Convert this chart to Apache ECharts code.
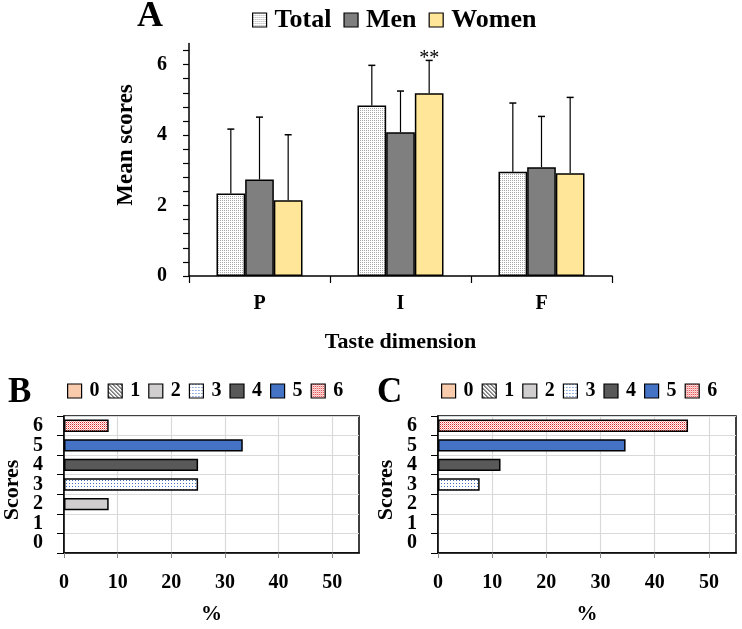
<!DOCTYPE html>
<html>
<head>
<meta charset="utf-8">
<script src="https://cdn.jsdelivr.net/npm/echarts@6/dist/echarts.min.js"></script>
<style>
html,body{margin:0;padding:0;background:#fff;}
#c{width:742px;height:629px;}
</style>
</head>
<body>
<div id="c"></div>
<script>
// ---------- Data ----------
const categories = ['P', 'I', 'F'];
const totalMean = [2.34, 4.84, 2.96];
const totalSD   = [1.83, 1.14, 1.95];
const menMean   = [2.74, 4.08, 3.09];
const menSD     = [1.77, 1.17, 1.44];
const womenMean = [2.15, 5.19, 2.92];
const womenSD   = [1.86, 0.93, 2.15];
const womenSig  = ['', '**', ''];
const yLabelsA  = [0, 2, 4, 6];

const scoreLabels = ['0', '1', '2', '3', '4', '5', '6'];
const pctB = [0, 0, 8.33, 25, 25, 33.33, 8.33];
const pctC = [0, 0, 0, 7.69, 11.54, 34.62, 46.15];
const xLabelsBC = [0, 10, 20, 30, 40, 50];

// ---------- Styles ----------
const FONT = '"Liberation Serif", "Times New Roman", serif';
function pat(size, bg, dots) {
  const c = document.createElement('canvas');
  c.width = size; c.height = size;
  const g = c.getContext('2d');
  g.fillStyle = bg; g.fillRect(0, 0, size, size);
  dots.forEach(d => { g.fillStyle = d[2]; g.fillRect(d[0], d[1], 1, 1); });
  return { image: c, repeat: 'repeat' };
}
const totalFill = pat(2, '#ffffff', [[0, 0, '#a8a8a8']]);
const scoreFills = [
  '#f8cbad',
  pat(4, '#ffffff', [[0,0,'#555'],[1,1,'#555'],[2,2,'#555'],[3,3,'#555'],[1,0,'#aaa'],[2,1,'#aaa'],[3,2,'#aaa'],[0,3,'#aaa']]),
  '#d0cece',
  pat(3, '#ffffff', [[0, 0, '#4472c4']]),
  '#595959',
  '#4472c4',
  pat(2, '#ffffff', [[0, 0, '#e02020'], [1, 1, '#f7a0a0']])
];
const groupFills = [totalFill, '#7f7f7f', '#ffe699'];
const GAP = 0.39;

// ---------- Minor ticks for panel A (axis tick positions) ----------
const yTicksA = [];
for (let k = 0; k <= 16; k++) yTicksA.push(+(k * 0.4).toFixed(1));

function errSeries(k, means, sds, sig) {
  return {
    type: 'custom',
    xAxisIndex: 0, yAxisIndex: 0,
    z: 5,
    silent: true,
    data: categories.map((c, i) => [i, means[i], means[i] + sds[i]]),
    renderItem: function (params, api) {
      const i = api.value(0);
      const band = api.size([1, 0])[0];
      const bw = band * (1 - GAP) / 3;
      const mid = api.coord([i, api.value(1)]);
      const top = api.coord([i, api.value(2)]);
      const x = mid[0] + (k - 1) * bw;
      const children = [
        { type: 'line', shape: { x1: x, y1: mid[1], x2: x, y2: top[1] }, style: { stroke: '#000', lineWidth: 1.2 } },
        { type: 'line', shape: { x1: x - 3.5, y1: top[1], x2: x + 3.5, y2: top[1] }, style: { stroke: '#000', lineWidth: 1.5 } }
      ];
      const s = sig ? sig[i] : '';
      if (s) {
        children.push({ type: 'text', x: x, y: top[1] - 2, style: { text: s, font: '20px ' + FONT, fill: '#000', align: 'center', verticalAlign: 'middle' } });
      }
      return { type: 'group', children: children };
    }
  };
}

function scoreSeries(vals, ax, stackName) {
  return scoreLabels.map((name, k) => ({
    type: 'bar',
    name: name,
    xAxisIndex: ax, yAxisIndex: ax,
    stack: stackName,
    barCategoryGap: '37%',
    data: vals.map((v, i) => (i === k && v > 0) ? v : '-'),
    itemStyle: { color: scoreFills[k], borderColor: '#000', borderWidth: 1.5 }
  }));
}

function valueAxisBC(idx) {
  return {
    type: 'value', gridIndex: idx, min: 0, max: 55, interval: 10,
    name: '%', nameLocation: 'middle', nameGap: 51,
    nameTextStyle: { fontFamily: FONT, fontWeight: 'bold', fontSize: 21, color: '#000' },
    axisLine: { show: true, lineStyle: { color: '#000', width: 1.5 } },
    axisTick: { show: true, length: 5, customValues: xLabelsBC, lineStyle: { color: '#888' } },
    axisLabel: { customValues: xLabelsBC, margin: 20, fontFamily: FONT, fontWeight: 'bold', fontSize: 20, color: '#000' },
    splitLine: { show: true, lineStyle: { color: '#d9d9d9', width: 1.2 } }
  };
}
function catAxisBC(idx) {
  return {
    type: 'category', gridIndex: idx, data: scoreLabels,
    axisLine: { show: true, lineStyle: { color: '#000', width: 1.5 } },
    axisTick: { show: true, length: 7, lineStyle: { color: '#000' } },
    axisLabel: { interval: 0, margin: 21, fontFamily: FONT, fontWeight: 'bold', fontSize: 20, color: '#000' },
    splitLine: { show: true, interval: 0, lineStyle: { color: '#d9d9d9', width: 1.2 } }
  };
}

const chart = echarts.init(document.getElementById('c'), null, { renderer: 'canvas', width: 742, height: 629 });
const legendText = (size) => ({ fontFamily: FONT, fontWeight: 'bold', fontSize: size, color: '#000', padding: [0, 0, 0, 3] });
const option = {
  backgroundColor: '#fff',
  animation: false,
  graphic: [
    { type: 'text', x: 137, y: 17, style: { text: 'A', font: 'bold 36px ' + FONT, fill: '#000', verticalAlign: 'middle' } },
    { type: 'text', x: 8, y: 393, style: { text: 'B', font: 'bold 35px ' + FONT, fill: '#000', verticalAlign: 'middle' } },
    { type: 'text', x: 377, y: 393, style: { text: 'C', font: 'bold 35px ' + FONT, fill: '#000', verticalAlign: 'middle' } },
    { type: 'text', x: 126, y: 145, rotation: Math.PI / 2, style: { text: 'Mean scores', font: 'bold 23px ' + FONT, fill: '#000', align: 'center', verticalAlign: 'middle' } },
    { type: 'text', x: 12, y: 490, rotation: Math.PI / 2, style: { text: 'Scores', font: 'bold 22px ' + FONT, fill: '#000', align: 'center', verticalAlign: 'middle' } },
    { type: 'text', x: 386, y: 490, rotation: Math.PI / 2, style: { text: 'Scores', font: 'bold 22px ' + FONT, fill: '#000', align: 'center', verticalAlign: 'middle' } }
  ],
  legend: [
    { data: ['Total', 'Men', 'Women'], left: 252, top: 7, padding: 0, icon: 'rect', itemWidth: 14, itemHeight: 14, itemGap: 12,
      textStyle: legendText(26), itemStyle: { borderColor: '#000', borderWidth: 1.2 } },
    { data: scoreLabels, left: 67, top: 381, padding: 0, icon: 'rect', itemWidth: 14, itemHeight: 14, itemGap: 8,
      textStyle: legendText(20), itemStyle: { borderColor: '#000', borderWidth: 1.2 } },
    { data: scoreLabels, left: 441, top: 381, padding: 0, icon: 'rect', itemWidth: 14, itemHeight: 14, itemGap: 8,
      textStyle: legendText(20), itemStyle: { borderColor: '#000', borderWidth: 1.2 } }
  ],
  grid: [
    { left: 189, right: 130, top: 43.5, bottom: 353 },
    { left: 64, right: 383, top: 416, bottom: 76, show: true, borderColor: '#000', borderWidth: 1.5, backgroundColor: 'transparent' },
    { left: 438, right: 6, top: 416, bottom: 76, show: true, borderColor: '#000', borderWidth: 1.5, backgroundColor: 'transparent' }
  ],
  xAxis: [
    { type: 'category', gridIndex: 0, data: categories,
      name: 'Taste dimension', nameLocation: 'middle', nameGap: 55,
      nameTextStyle: { fontFamily: FONT, fontWeight: 'bold', fontSize: 22, color: '#000' },
      axisLine: { lineStyle: { color: '#000', width: 1.5 } },
      axisTick: { show: true, length: 7, lineStyle: { color: '#000', width: 1.2 } },
      axisLabel: { margin: 18, fontFamily: FONT, fontWeight: 'bold', fontSize: 20, color: '#000' } },
    valueAxisBC(1),
    valueAxisBC(2)
  ],
  yAxis: [
    { type: 'value', gridIndex: 0, min: 0, max: 6.6,
      axisLine: { show: true, lineStyle: { color: '#000', width: 1.5 } },
      axisTick: { show: true, length: 6, customValues: yTicksA, lineStyle: { color: '#000', width: 1.2 } },
      axisLabel: { customValues: yLabelsA, margin: 22, fontFamily: FONT, fontWeight: 'bold', fontSize: 20, color: '#000' },
      splitLine: { show: false } },
    catAxisBC(1),
    catAxisBC(2)
  ],
  series: [
    { type: 'bar', name: 'Total', xAxisIndex: 0, yAxisIndex: 0, data: totalMean, barGap: '0%', barCategoryGap: (GAP * 100) + '%',
      itemStyle: { color: groupFills[0], borderColor: '#000', borderWidth: 1.5 } },
    { type: 'bar', name: 'Men', xAxisIndex: 0, yAxisIndex: 0, data: menMean, barGap: '0%', barCategoryGap: (GAP * 100) + '%',
      itemStyle: { color: groupFills[1], borderColor: '#000', borderWidth: 1.5 } },
    { type: 'bar', name: 'Women', xAxisIndex: 0, yAxisIndex: 0, data: womenMean, barGap: '0%', barCategoryGap: (GAP * 100) + '%',
      itemStyle: { color: groupFills[2], borderColor: '#000', borderWidth: 1.5 } },
    errSeries(0, totalMean, totalSD, null),
    errSeries(1, menMean, menSD, null),
    errSeries(2, womenMean, womenSD, womenSig)
  ].concat(scoreSeries(pctB, 1, 'B')).concat(scoreSeries(pctC, 2, 'C'))
};
chart.setOption(option);
</script>
</body>
</html>
